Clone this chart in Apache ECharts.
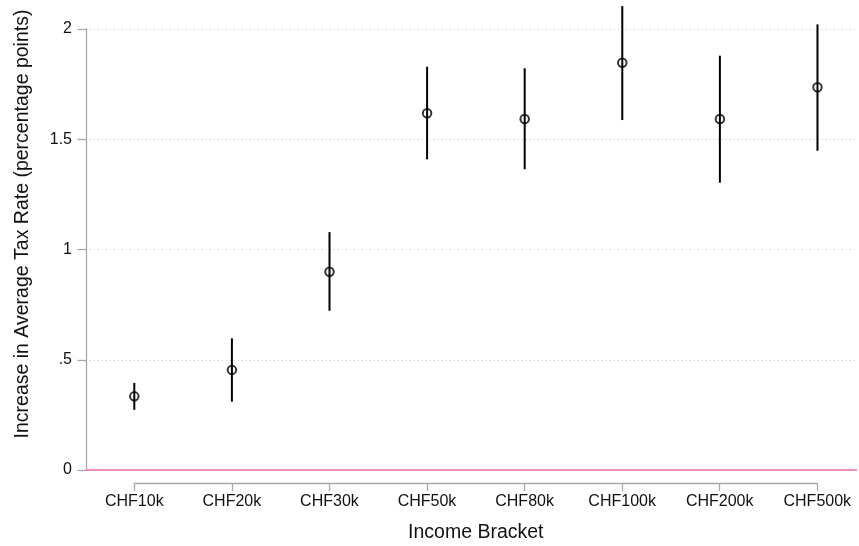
<!DOCTYPE html>
<html>
<head>
<meta charset="utf-8">
<script src="https://cdn.jsdelivr.net/npm/echarts@6/dist/echarts.min.js"></script>
<style>html,body{margin:0;padding:0;background:#fff}#c{width:859px;height:546px}</style>
</head>
<body>
<div id="c"></div>
<script>
const categories = ['CHF10k','CHF20k','CHF30k','CHF50k','CHF80k','CHF100k','CHF200k','CHF500k'];
const estimates  = [0.334, 0.454, 0.899, 1.618, 1.592, 1.847, 1.592, 1.736];
const ciLower    = [0.273, 0.310, 0.722, 1.409, 1.364, 1.587, 1.303, 1.448];
const ciUpper    = [0.395, 0.597, 1.079, 1.829, 1.822, 2.104, 1.879, 2.021];
const yTickValues = [0, 0.5, 1, 1.5, 2];
const yTickLabels = ['0', '.5', '1', '1.5', '2'];
const xTitle = 'Income Bracket';
const yTitle = 'Increase in Average Tax Rate (percentage points)';

const FONT = '"Liberation Sans", Arial, Helvetica, sans-serif';
const AXIS_GRAY = '#a8a8a8';

const pts = estimates.map((v, i) => [i + 1, v]);
const bars = categories.map((c, i) => [i + 1, ciLower[i], ciUpper[i]]);

const chart = echarts.init(document.getElementById('c'), null, {renderer: 'canvas'});
chart.setOption({
  animation: false,
  backgroundColor: '#ffffff',
  grid: [
    {left: 86, right: 2, top: 0, bottom: 76},      // data area
    {left: 86, right: 2, top: 29, bottom: 76},     // y axis 0..2
    {left: 134.3, right: 41.7, top: 482, height: 1} // x axis
  ],
  xAxis: [
    {gridIndex: 0, type: 'value', min: 0.505, max: 8.405, show: false},
    {gridIndex: 1, type: 'value', min: 0.505, max: 8.405, show: false},
    {gridIndex: 2, type: 'value', min: 1, max: 8, interval: 1,
     axisLine: {show: true, lineStyle: {color: AXIS_GRAY, width: 1.3}},
     axisTick: {show: true, length: 8, inside: false, lineStyle: {color: AXIS_GRAY, width: 1.3}},
     splitLine: {show: false},
     axisLabel: {margin: 11, fontSize: 16, fontFamily: FONT, color: '#111',
                 formatter: v => categories[Math.round(v) - 1] || ''},
     name: xTitle, nameLocation: 'middle', nameGap: 40,
     nameTextStyle: {fontSize: 19.5, fontFamily: FONT, color: '#111'}}
  ],
  yAxis: [
    {gridIndex: 0, type: 'value', min: 0, max: 470 / 220.5, show: false},
    {gridIndex: 1, type: 'value', min: 0, max: 2, interval: 0.5,
     axisLine: {show: true, lineStyle: {color: AXIS_GRAY, width: 1.3}},
     axisTick: {show: true, length: 8.5, inside: false, lineStyle: {color: AXIS_GRAY, width: 1.3}},
     axisLabel: {margin: 14, fontSize: 16, fontFamily: FONT, color: '#111',
                 formatter: v => { const k = yTickValues.findIndex(t => Math.abs(t - v) < 1e-9); return k >= 0 ? yTickLabels[k] : ''; }},
     splitLine: {show: true, showMinLine: false, lineStyle: {color: '#c8c8c8', width: 1, type: [1, 3]}}},
    {gridIndex: 2, type: 'value', min: 0, max: 1, show: false}
  ],
  graphic: [{
    type: 'text', x: 23, y: 224, rotation: Math.PI / 2,
    style: {text: yTitle, fontSize: 19.5, fontFamily: FONT, fill: '#111',
            textAlign: 'center', textVerticalAlign: 'middle'}
  }],
  series: [
    {
      type: 'line', xAxisIndex: 0, yAxisIndex: 0, data: [], silent: true,
      markLine: {symbol: 'none', silent: true, label: {show: false},
                 lineStyle: {color: '#e46aa8', width: 1.5, type: 'solid'},
                 data: [{yAxis: 0}]}
    },
    {
      type: 'custom', xAxisIndex: 0, yAxisIndex: 0, data: bars, silent: true,
      renderItem: (params, api) => {
        const lo = api.coord([api.value(0), api.value(1)]);
        const hi = api.coord([api.value(0), api.value(2)]);
        return {type: 'line', shape: {x1: lo[0], y1: lo[1], x2: hi[0], y2: hi[1]},
                style: {stroke: '#000', lineWidth: 2}};
      },
      z: 3
    },
    {
      type: 'scatter', xAxisIndex: 0, yAxisIndex: 0, data: pts, silent: true,
      symbol: 'circle', symbolSize: 8.5,
      itemStyle: {color: 'rgba(0,0,0,0)', borderColor: '#000', borderWidth: 2},
      z: 4
    }
  ]
});
</script>
</body>
</html>
